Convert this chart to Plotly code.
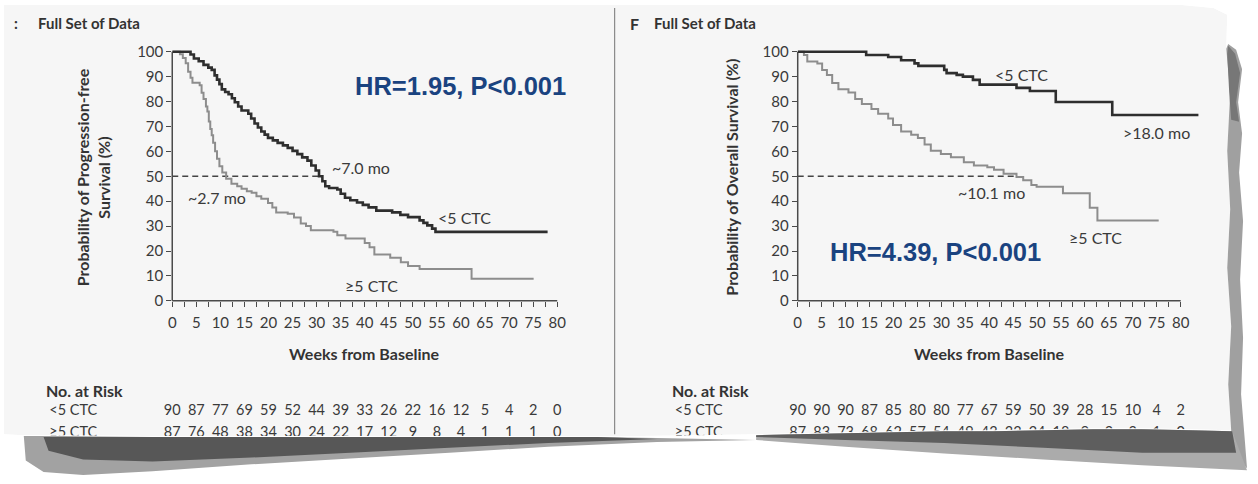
import plotly.graph_objects as go

W, H = 1258, 484

# ---------------- data ----------------
week_ticks = list(range(0, 81, 5))
week_minor = [2.5, 7.5, 12.5, 17.5, 22.5, 27.5, 32.5, 37.5, 42.5, 47.5, 52.5, 57.5, 62.5, 67.5, 72.5, 77.5]
pct_ticks = list(range(0, 101, 10))

# Progression-free survival (Kaplan-Meier steps: week, %)
pfs_lt5_weeks = [0, 3.8, 4.5, 5.5, 6.5, 7.5, 8.2, 8.8, 9.3, 9.8, 10.3, 11.0, 11.7, 12.4, 13.0, 13.7,
                 14.4, 15.8, 16.4, 17.1, 17.8, 18.5, 19.2, 19.9, 20.9, 21.9, 23.0, 24.0, 25.0, 26.0,
                 27.0, 28.1, 28.9, 29.8, 30.5, 31.2, 31.8, 32.6, 34.3, 35.0, 35.9, 37.0, 38.4, 39.6,
                 40.8, 42.4, 45.7, 47.4, 49.0, 51.4, 52.2, 53.0, 54.0, 54.7, 78.0]
pfs_lt5_surv = [100, 98.9, 97.3, 96.2, 94.7, 93.6, 92.7, 90.5, 88.8, 87.0, 84.9, 83.8, 82.9, 81.3, 79.7, 78.0,
                76.4, 75.1, 73.2, 71.2, 69.6, 68.0, 66.7, 65.4, 64.4, 63.4, 62.4, 61.4, 60.2, 58.9,
                57.6, 56.3, 54.3, 52.3, 50.0, 48.0, 46.0, 45.3, 44.7, 43.0, 41.4, 40.4, 39.5, 38.5,
                37.5, 36.2, 35.5, 34.5, 33.6, 32.3, 31.3, 30.3, 29.0, 27.7, 27.7]

pfs_ge5_weeks = [0, 1.6, 2.2, 2.8, 3.3, 3.8, 4.2, 5.7, 6.1, 6.5, 7.0, 7.3, 7.6, 7.9, 8.2, 8.5, 8.9,
                 9.3, 9.8, 10.4, 11.2, 12.3, 13.5, 14.4, 15.5, 16.5, 17.5, 18.5, 19.9, 20.8, 21.6,
                 24.0, 25.3, 26.7, 27.8, 28.8, 33.5, 34.3, 36.0, 40.0, 41.0, 42.0, 45.3, 47.5, 49.0,
                 51.4, 62.2, 75.1]
pfs_ge5_surv = [100, 99.0, 97.5, 95.4, 92.0, 89.5, 87.5, 86.5, 83.5, 81.0, 78.0, 76.0, 72.0, 69.0, 66.5, 63.5, 60.0,
                57.0, 54.0, 51.5, 49.0, 47.0, 46.0, 45.0, 44.0, 43.4, 42.0, 41.0, 39.3, 37.5, 35.5,
                35.0, 33.5, 31.0, 30.0, 28.3, 27.7, 26.3, 25.0, 23.2, 21.5, 18.6, 17.3, 15.5, 14.0,
                12.8, 8.9, 8.9]

# Overall survival (Kaplan-Meier steps: week, %)
os_lt5_weeks = [0, 14.3, 18.9, 21.6, 24.4, 25.2, 30.6, 31.1, 33.2, 34.5, 36.6, 38.0, 45.7, 48.5,
                53.9, 65.7, 83.7]
os_lt5_surv = [100, 98.7, 97.9, 96.6, 95.3, 94.3, 92.7, 91.4, 90.7, 90.0, 88.7, 86.8, 85.5, 84.2,
               79.8, 74.6, 74.6]

os_ge5_weeks = [0, 1.3, 2.0, 4.1, 5.1, 6.1, 7.2, 8.5, 10.6, 12.0, 13.4, 15.4, 16.8, 18.9, 19.9,
                21.6, 23.7, 25.1, 26.5, 27.8, 29.9, 32.0, 34.7, 36.8, 39.6, 41.0, 43.0, 45.7, 47.1,
                48.8, 49.9, 55.4, 61.0, 62.6, 75.4]
os_ge5_surv = [100, 98.7, 96.1, 95.3, 92.7, 90.7, 87.4, 84.9, 83.6, 81.0, 79.0, 77.0, 75.1, 73.2, 70.6,
               68.0, 66.7, 65.4, 62.8, 60.2, 58.9, 57.6, 55.6, 54.3, 53.6, 52.6, 51.0, 49.7, 48.4,
               46.5, 45.8, 43.2, 37.4, 32.2, 32.2]

pfs_dash_end = 30.5   # week where 50% reference line meets curve (left)
os_dash_end = 45.7    # week where 50% reference line meets curve (right)

risk_groups = ['<5 CTC', '≥5 CTC']
risk_pfs_lt5 = [90, 87, 77, 69, 59, 52, 44, 39, 33, 26, 22, 16, 12, 5, 4, 2, 0]
risk_pfs_ge5 = [87, 76, 48, 38, 34, 30, 24, 22, 17, 12, 9, 8, 4, 1, 1, 1, 0]
risk_os_lt5 = [90, 90, 90, 87, 85, 80, 80, 77, 67, 59, 50, 39, 28, 15, 10, 4, 2]
risk_os_ge5 = [87, 83, 73, 68, 62, 57, 54, 49, 43, 33, 24, 18, 9, 2, 2, 1, 0]

# ---------------- geometry helpers ----------------
def px(x):
    return x / W

def py(y):
    return 1 - y / H

L_X0, L_X80 = 170, 559
R_X0, R_X80 = 802, 1189
Y0, Y100 = 304, 48
u_y = (Y0 - Y100) / 100.0
u_l = (L_X80 - L_X0) / 80.0
u_r = (R_X80 - R_X0) / 80.0
Y_TOP = 102
R_XMAX = 85

# risk-table strip (an invisible subplot per panel, y in negative pixel rows)
T_TOP, T_BOT = 380, 470
ROW1_Y, ROW2_Y = 418, 440
L_TX0, L_TX1 = 20, 600
R_TX0, R_TX1 = 640, 1232

DARK = '#2e2e2e'
GRAY = '#8d8d8d'
TXT = '#3a3a3a'
BLUE = '#1a4380'
FONT = 'Lato, Open Sans, sans-serif'

fig = go.Figure()

def km(t, s, color, width, xa, ya):
    return go.Scatter(x=t, y=s, mode='lines', line=dict(color=color, width=width, shape='hv'),
                      xaxis=xa, yaxis=ya, hoverinfo='skip', showlegend=False)

def dash(x_end, xa, ya):
    return go.Scatter(x=[0, x_end], y=[50, 50], mode='lines',
                      line=dict(color='#444444', width=1.3, dash='6px,4px'),
                      xaxis=xa, yaxis=ya, hoverinfo='skip', showlegend=False)

fig.add_trace(dash(pfs_dash_end, 'x', 'y'))
fig.add_trace(km(pfs_ge5_weeks, pfs_ge5_surv, GRAY, 2.0, 'x', 'y'))
fig.add_trace(km(pfs_lt5_weeks, pfs_lt5_surv, DARK, 2.6, 'x', 'y'))
fig.add_trace(dash(os_dash_end, 'x2', 'y2'))
fig.add_trace(km(os_ge5_weeks, os_ge5_surv, GRAY, 2.0, 'x2', 'y2'))
fig.add_trace(km(os_lt5_weeks, os_lt5_surv, DARK, 2.6, 'x2', 'y2'))

# risk table rows as text traces (so the torn edge can cover the lower row)
tfont = dict(family=FONT, size=14.5, color=TXT)
for xa, ya, rows, x0px, unit in (('x3', 'y3', (risk_pfs_lt5, risk_pfs_ge5), L_X0, u_l),
                                  ('x4', 'y4', (risk_os_lt5, risk_os_ge5), R_X0, u_r)):
    for grp, vals, ry in zip(risk_groups, rows, (ROW1_Y, ROW2_Y)):
        fig.add_trace(go.Scatter(x=week_ticks, y=[-ry] * len(week_ticks), mode='text',
                                 text=[str(v) for v in vals], textposition='middle center',
                                 textfont=tfont, xaxis=xa, yaxis=ya,
                                 hoverinfo='skip', showlegend=False))
        fig.add_trace(go.Scatter(x=[-100 / unit], y=[-ry], mode='text', text=[grp],
                                 textposition='middle center', textfont=tfont,
                                 xaxis=xa, yaxis=ya, hoverinfo='skip', showlegend=False))

tickfont = dict(family=FONT, size=15, color=TXT)
tick_common = dict(ticks='outside', ticklen=5, tickwidth=1.3, tickcolor='#4a4a4a',
                   showgrid=False, zeroline=False, showline=False, tickfont=tickfont, fixedrange=True)
minor = dict(tickmode='array', tickvals=week_minor, ticks='outside', ticklen=5, tickwidth=1.3,
             tickcolor='#4a4a4a', showgrid=False)
hidden = dict(visible=False, showgrid=False, zeroline=False, fixedrange=True)

fig.update_layout(
    width=W, height=H, autosize=False,
    margin=dict(l=0, r=0, t=0, b=0, pad=0),
    paper_bgcolor='white', plot_bgcolor='rgba(0,0,0,0)',
    showlegend=False,
    xaxis=dict(domain=[px(L_X0), px(L_X80)], range=[0, 80], anchor='y', tickmode='array',
               tickvals=week_ticks, minor=minor, ticklabelstandoff=3, **tick_common),
    yaxis=dict(domain=[py(Y0), py(Y0 - Y_TOP * u_y)], range=[0, Y_TOP], anchor='x', tickmode='array',
               tickvals=pct_ticks, **tick_common),
    xaxis2=dict(domain=[px(R_X0), px(R_X0 + R_XMAX * u_r)], range=[0, R_XMAX], anchor='y2',
                tickmode='array', tickvals=week_ticks, minor=minor, ticklabelstandoff=3, **tick_common),
    yaxis2=dict(domain=[py(Y0), py(Y0 - Y_TOP * u_y)], range=[0, Y_TOP], anchor='x2', tickmode='array',
                tickvals=pct_ticks, **tick_common),
    xaxis3=dict(domain=[px(L_TX0), px(L_TX1)], range=[(L_TX0 - L_X0) / u_l, (L_TX1 - L_X0) / u_l],
                anchor='y3', **hidden),
    yaxis3=dict(domain=[py(T_BOT), py(T_TOP)], range=[-T_BOT, -T_TOP], anchor='x3', **hidden),
    xaxis4=dict(domain=[px(R_TX0), px(R_TX1)], range=[(R_TX0 - R_X0) / u_r, (R_TX1 - R_X0) / u_r],
                anchor='y4', **hidden),
    yaxis4=dict(domain=[py(T_BOT), py(T_TOP)], range=[-T_BOT, -T_TOP], anchor='x4', **hidden),
)

# ---------------- decorative shapes (paper, torn edges) ----------------
def path(pts):
    return 'M ' + ' L '.join(f'{px(x):.5f},{py(y):.5f}' for x, y in pts) + ' Z'

edge = [(1190, 0), (1222, 3), (1236, 10), (1235, 45), (1239, 90), (1236, 150), (1239, 210),
        (1236, 270), (1240, 330), (1237, 390), (1240, 437),
        (1200, 436), (1150, 435), (1100, 435), (1050, 436), (1000, 437), (950, 437), (900, 438),
        (850, 439), (800, 440), (760, 441), (700, 442), (640, 443), (600, 443), (540, 443),
        (450, 443), (350, 443), (250, 443), (150, 443), (60, 442), (20, 442), (0, 441)]

shapes = []
shapes.append(dict(type='path', path=path([(0, 0)] + edge), fillcolor='#f6f6f6',
                   line=dict(width=0), layer='below', xref='paper', yref='paper'))
shapes.append(dict(type='line', x0=px(617), x1=px(617), y0=py(3), y1=py(441), xref='paper', yref='paper',
                   line=dict(color='#8a8a8a', width=1.2), layer='below'))
for x0, x80 in ((L_X0, L_X80), (R_X0, R_X80)):
    shapes.append(dict(type='line', x0=px(x0), x1=px(x0), y0=py(Y0), y1=py(Y100), xref='paper', yref='paper',
                       line=dict(color='#4a4a4a', width=1.5), layer='below'))
    shapes.append(dict(type='line', x0=px(x0), x1=px(x80), y0=py(Y0), y1=py(Y0), xref='paper', yref='paper',
                       line=dict(color='#4a4a4a', width=1.5), layer='below'))
# white region beyond the torn edge (hides lower half of second risk row)
shapes.append(dict(type='path', path=path(edge + [(0, 484), (1258, 484), (1258, 0)]), fillcolor='white',
                   line=dict(width=0), layer='above', xref='paper', yref='paper'))
# right-edge shadow
shapes.append(dict(type='path', path=path([(1237, 40), (1245, 46), (1251, 66), (1247, 100), (1251, 132),
                                            (1248, 172), (1252, 222), (1249, 282), (1252, 342), (1250, 400),
                                            (1254, 450), (1256, 476), (1242, 462), (1240, 437), (1237, 390),
                                            (1240, 330), (1236, 270), (1239, 210), (1236, 150), (1239, 90),
                                            (1235, 45)]),
                   fillcolor='#a0a0a0', line=dict(width=0), layer='above', xref='paper', yref='paper'))
shapes.append(dict(type='path', path=path([(1237, 42), (1244, 50), (1249, 70), (1245, 100), (1248, 120),
                                            (1240, 118), (1238, 90), (1236, 50)]),
                   fillcolor='#777777', line=dict(width=0), layer='above', xref='paper', yref='paper'))
# bottom-right shadow
shapes.append(dict(type='path', path=path([(760, 442), (800, 441), (850, 440), (900, 439), (950, 438),
                                            (1000, 438), (1050, 437), (1100, 436), (1150, 436), (1200, 437),
                                            (1241, 438), (1256, 478), (1150, 473), (1050, 467), (950, 461),
                                            (850, 454), (760, 447)]),
                   fillcolor='#ababab', line=dict(width=0), layer='above', xref='paper', yref='paper'))
shapes.append(dict(type='path', path=path([(760, 442), (800, 441), (850, 440), (900, 439), (950, 438),
                                            (1000, 438), (1050, 437), (1100, 436), (1150, 436), (1200, 437),
                                            (1241, 438), (1245, 460), (1150, 460), (1050, 455), (950, 450),
                                            (850, 447), (760, 444)]),
                   fillcolor='#5e5e5e', line=dict(width=0), layer='above', xref='paper', yref='paper'))
# bottom-left shadow
shapes.append(dict(type='path', path=path([(20, 443), (60, 443), (150, 444), (250, 444), (350, 444),
                                            (450, 444), (540, 444), (600, 444), (660, 445), (760, 447),
                                            (660, 449), (550, 454), (450, 460), (350, 466), (250, 472),
                                            (150, 479), (80, 483), (40, 480), (22, 468)]),
                   fillcolor='#a2a2a2', line=dict(width=0), layer='above', xref='paper', yref='paper'))
shapes.append(dict(type='path', path=path([(40, 444), (150, 444), (250, 444), (350, 444), (450, 444),
                                            (540, 444), (600, 444), (660, 446), (550, 450), (450, 455),
                                            (350, 460), (250, 465), (150, 469), (80, 467), (45, 458)]),
                   fillcolor='#575757', line=dict(width=0), layer='above', xref='paper', yref='paper'))
fig.update_layout(shapes=shapes)

# ---------------- annotations ----------------
ann = []

def text(x, y, s, size=16, color=TXT, bold=False, xanchor='center', xref='paper', yref='paper',
         family=FONT, angle=0):
    ann.append(dict(x=x, y=y, xref=xref, yref=yref, text=f'<b>{s}</b>' if bold else s, showarrow=False,
                    xanchor=xanchor, yanchor='middle', textangle=angle,
                    font=dict(family=family, size=size, color=color)))

text(px(8), py(19), ':', size=15, bold=True, xanchor='left', color='#333')
text(px(32), py(19), 'Full Set of Data', size=15, bold=True, xanchor='left', color='#333')
text(px(631), py(19), 'F', size=16, bold=True, xanchor='left', color='#333')
text(px(655), py(19), 'Full Set of Data', size=15, bold=True, xanchor='left', color='#333')

text(px(90), py(177), 'Probability of Progression-free<br>Survival (%)', size=16, bold=True, angle=-90,
     color='#333')
text(px(735), py(177), 'Probability of Overall Survival (%)', size=16, bold=True, angle=-90, color='#333')
text(px(364), py(358), 'Weeks from Baseline', size=16, bold=True, color='#333')
text(px(996), py(358), 'Weeks from Baseline', size=16, bold=True, color='#333')

HRF = 'Liberation Sans, Arial, sans-serif'
text(59.8, 86.3, 'HR=1.95, P<0.001', size=25.5, bold=True, color=BLUE, xref='x', yref='y', family=HRF)
text(28.8, 19.5, 'HR=4.39, P<0.001', size=25.5, bold=True, color=BLUE, xref='x2', yref='y2', family=HRF)

text(39.3, 53.5, '~7.0 mo', size=16, xref='x', yref='y')
text(9.2, 41.4, '~2.7 mo', size=16, xref='x', yref='y')
text(60.7, 33.6, '<5 CTC', size=16, xref='x', yref='y')
text(41.5, 6.3, '≥5 CTC', size=16, xref='x', yref='y')
text(46.8, 90.8, '<5 CTC', size=16, xref='x2', yref='y2')
text(75.0, 67.6, '>18.0 mo', size=16, xref='x2', yref='y2')
text(40.4, 43.4, '~10.1 mo', size=16, xref='x2', yref='y2')
text(62.3, 25.4, '≥5 CTC', size=16, xref='x2', yref='y2')

text(px(40), py(396), 'No. at Risk', size=16, bold=True, xanchor='left', color='#333')
text(px(673), py(396), 'No. at Risk', size=16, bold=True, xanchor='left', color='#333')

fig.update_layout(annotations=ann)

fig.write_html('out.html')
